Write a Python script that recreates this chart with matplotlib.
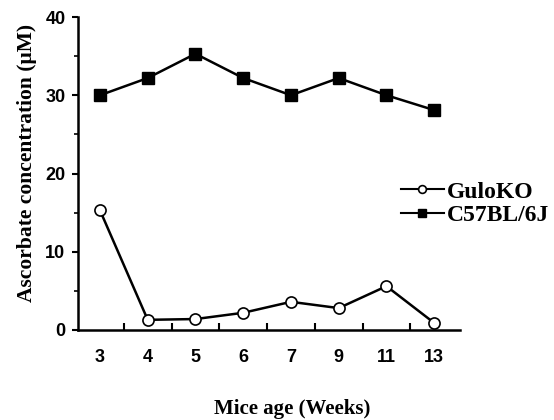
import matplotlib
matplotlib.use("Agg")
import matplotlib.pyplot as plt
import numpy as np

weeks = ["3", "4", "5", "6", "7", "9", "11", "13"]
gulo_ko = [15.3, 1.3, 1.4, 2.2, 3.6, 2.8, 5.6, 0.9]
c57 = [30.0, 32.2, 35.3, 32.2, 30.0, 32.2, 30.0, 28.1]
y_ticks = [0, 10, 20, 30, 40]

fig = plt.figure(figsize=(5.54, 4.2), dpi=100)
ax = fig.add_axes([78/554, 90/420, (460-78)/554, (330-17)/420])

x = np.arange(len(weeks))
ax.plot(x, gulo_ko, color="black", lw=1.8, marker="o", ms=8, mfc="white",
        mec="black", mew=1.2, label="GuloKO")
ax.plot(x, c57, color="black", lw=1.8, marker="s", ms=8.5, mfc="black",
        mec="black", label="C57BL/6J")

ax.set_xlim(-0.46, len(weeks) - 0.46)
ax.set_ylim(0, 40)
for s in ["top", "right"]:
    ax.spines[s].set_visible(False)
for s in ["left", "bottom"]:
    ax.spines[s].set_linewidth(1.8)

ax.set_xticks(x)
ax.set_xticklabels(weeks)
ax.set_xticks(x[:-1] + 0.5, minor=True)
ax.tick_params(axis="x", which="major", length=0, pad=14)
ax.tick_params(axis="x", which="minor", direction="in", length=5, width=1.5)

ax.set_yticks(y_ticks)
ax.set_yticks([5, 15, 25, 35], minor=True)
ax.tick_params(axis="y", which="major", direction="out", length=4, width=1.5, pad=5)
ax.tick_params(axis="y", which="minor", direction="out", length=3, width=1.2)

for lab in ax.get_xticklabels() + ax.get_yticklabels():
    lab.set_fontfamily("Liberation Sans")
    lab.set_fontweight("bold")
    lab.set_fontsize(13)

fig.text(27/554, 1 - 163/420, "Ascorbate concentration (\u03bcM)",
         fontfamily="Liberation Serif", fontweight="bold", fontsize=15.5,
         rotation=90, ha="center", va="center")
fig.text(292/554, 1 - 409/420, "Mice age (Weeks)", fontfamily="Liberation Serif",
         fontweight="bold", fontsize=15, ha="center", va="center")

leg = ax.legend(loc="upper left", bbox_to_anchor=(401/554, 1 - 181/420),
                bbox_transform=fig.transFigure, frameon=False,
                prop={"family": "Liberation Serif", "weight": "bold", "size": 17},
                handlelength=1.8, handletextpad=0.15, labelspacing=0.1,
                borderaxespad=0, borderpad=0, markerscale=0.7)
for line in leg.get_lines():
    line.set_linewidth(1.5)

fig.savefig("out.png", dpi=100)
